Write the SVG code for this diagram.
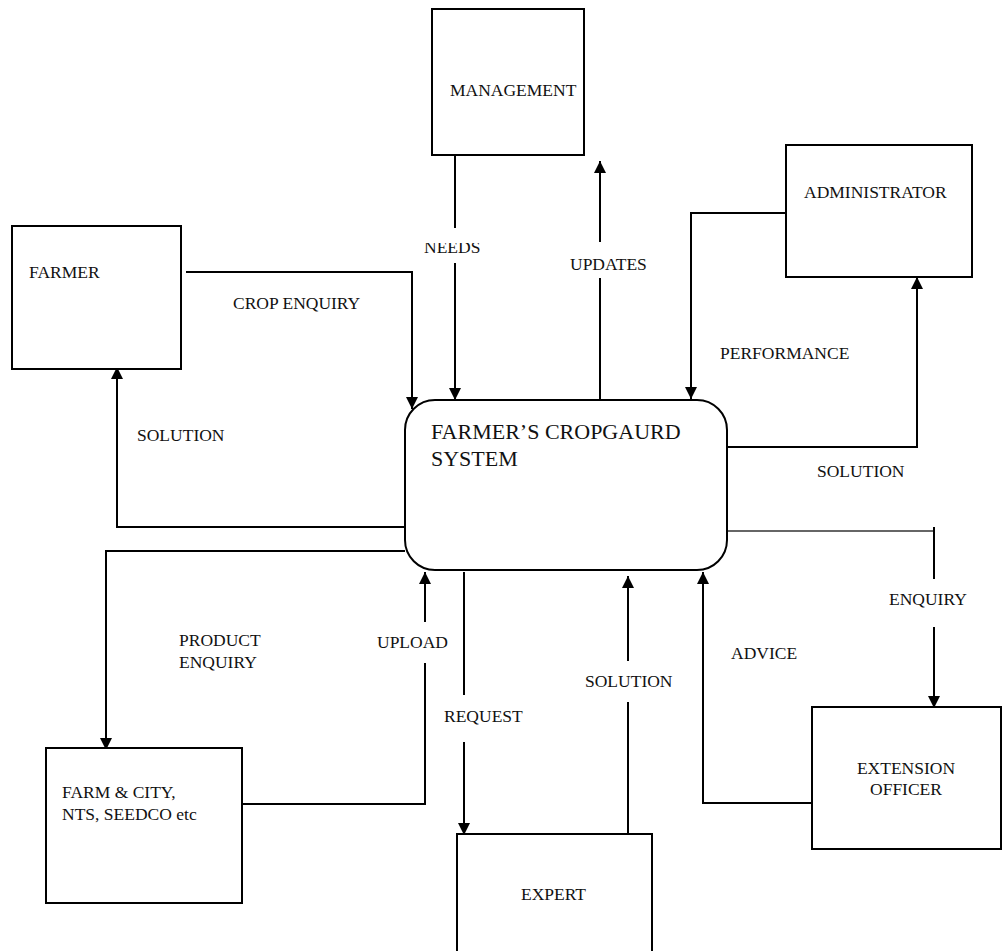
<svg xmlns="http://www.w3.org/2000/svg" width="1002" height="951" viewBox="0 0 1002 951">
<style>
.box{fill:#fff;stroke:#000;stroke-width:2}
.t{font-family:"Liberation Serif","Times New Roman",serif;font-size:17.5px;fill:#111}
.big{font-family:"Liberation Serif","Times New Roman",serif;font-size:22px;fill:#111}
.c{fill:none;stroke:#000;stroke-width:2}
.h{fill:none;stroke:#333;stroke-width:1.6}
</style>
<defs>
<marker id="arr" viewBox="0 0 12 12" refX="12" refY="6" markerWidth="12" markerHeight="12" markerUnits="userSpaceOnUse" orient="auto">
<path d="M0,0 L12,6 L0,12 z" fill="#000"/>
</marker>
<clipPath id="needsclip"><rect x="400" y="243" width="100" height="20"/></clipPath>
</defs>
<rect width="1002" height="951" fill="#fff"/>

<g id="connectors">
<path class="c" d="M186,272 H412 V409" marker-end="url(#arr)"/>
<path class="c" d="M455,155 V228"/>
<path class="c" d="M455,263 V400" marker-end="url(#arr)"/>
<path class="c" d="M600,400 V278"/>
<path class="c" d="M600,242 V161" marker-end="url(#arr)"/>
<path class="c" d="M786,213 H691 V399" marker-end="url(#arr)"/>
<path class="c" d="M728,447 H917 V277" marker-end="url(#arr)"/>
<path class="c" d="M405,527 H117 V367" marker-end="url(#arr)"/>
<path class="c" d="M405,551 H106 V750" marker-end="url(#arr)"/>
<path class="c" d="M242,804 H425 V663"/>
<path class="c" d="M425,622 V572" marker-end="url(#arr)"/>
<path class="c" d="M464,572 V695"/>
<path class="c" d="M464,742 V835" marker-end="url(#arr)"/>
<path class="c" d="M628,833 V702"/>
<path class="c" d="M628,661 V576" marker-end="url(#arr)"/>
<path class="c" d="M817,803 H703 V572" marker-end="url(#arr)"/>
<path class="h" d="M728,531 H934"/>
<path class="c" d="M934,527 V579"/>
<path class="c" d="M934,627 V708" marker-end="url(#arr)"/>
<text class="t" x="233" y="309">CROP ENQUIRY</text>
<text class="t" x="424" y="253" clip-path="url(#needsclip)">NEEDS</text>
<text class="t" x="570" y="270">UPDATES</text>
<text class="t" x="720" y="359">PERFORMANCE</text>
<text class="t" x="817" y="477">SOLUTION</text>
<text class="t" x="137" y="441">SOLUTION</text>
<text class="t" x="179" y="646">PRODUCT</text>
<text class="t" x="179" y="668">ENQUIRY</text>
<text class="t" x="377" y="648">UPLOAD</text>
<text class="t" x="444" y="722">REQUEST</text>
<text class="t" x="585" y="687">SOLUTION</text>
<text class="t" x="731" y="659">ADVICE</text>
<text class="t" x="889" y="605">ENQUIRY</text>
</g>

<g id="management">
<rect class="box" x="432" y="9" width="152" height="146"/>
<text class="t" x="450" y="96">MANAGEMENT</text>
</g>
<g id="administrator">
<rect class="box" x="786" y="145" width="186" height="132"/>
<text class="t" x="804" y="198">ADMINISTRATOR</text>
</g>
<g id="farmer">
<rect class="box" x="12" y="226" width="169" height="143"/>
<text class="t" x="29" y="278">FARMER</text>
</g>
<g id="system">
<rect class="box" x="405" y="400" width="322" height="170" rx="30" ry="30"/>
<text class="big" x="431" y="439">FARMER’S CROPGAURD</text>
<text class="big" x="431" y="466">SYSTEM</text>
</g>
<g id="farmcity">
<rect class="box" x="46" y="748" width="196" height="155"/>
<text class="t" x="62" y="798">FARM &amp; CITY,</text>
<text class="t" x="62" y="820">NTS, SEEDCO etc</text>
</g>
<g id="expert">
<rect class="box" x="457" y="834" width="195" height="130"/>
<text class="t" x="521" y="900">EXPERT</text>
</g>
<g id="extension">
<rect class="box" x="812" y="707" width="189" height="142"/>
<text class="t" x="906" y="774" text-anchor="middle">EXTENSION</text>
<text class="t" x="906" y="795" text-anchor="middle">OFFICER</text>
</g>
</svg>
